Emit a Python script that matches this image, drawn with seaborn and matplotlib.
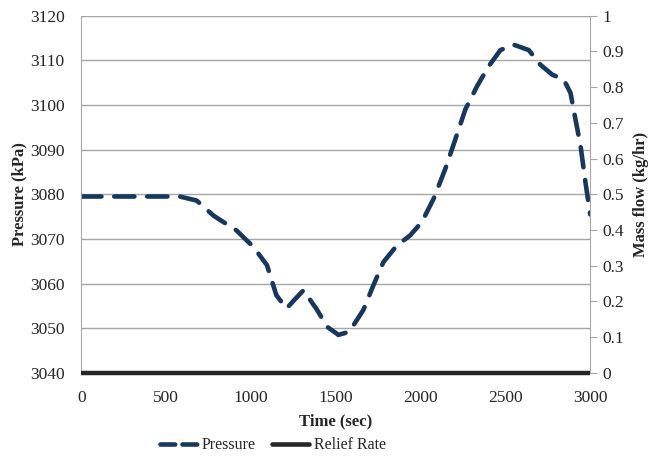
import matplotlib
matplotlib.use("Agg")
import matplotlib.pyplot as plt
import pandas as pd
import seaborn as sns
from matplotlib.lines import Line2D

# Pressure trace
time_sec = [0, 200, 400, 580, 680, 780, 915, 1015, 1095, 1150, 1210, 1260, 1310,
            1390, 1450, 1516, 1580, 1663, 1722, 1781, 1860, 1939, 2008, 2077,
            2146, 2205, 2264, 2333, 2402, 2471, 2549, 2638, 2707, 2776, 2844,
            2884, 2913, 2943, 2972, 3000]
pressure_kpa = [3079.5, 3079.5, 3079.5, 3079.5, 3078.6, 3075.2, 3071.9, 3068.2,
                3064.1, 3057.4, 3054.4, 3056.5, 3058.5, 3054.1, 3050.3, 3048.5,
                3049.2, 3054.1, 3059.6, 3064.8, 3068.5, 3070.8, 3073.8, 3079.0,
                3085.7, 3092.3, 3099.0, 3104.2, 3108.7, 3112.3, 3113.5, 3112.3,
                3109.0, 3106.8, 3105.7, 3102.7, 3096.8, 3090.9, 3082.7, 3075.5]

relief_time = [0, 3000]
relief_rate = [0, 0]

pressure_df = pd.DataFrame({"time": time_sec, "pressure": pressure_kpa})
relief_df = pd.DataFrame({"time": relief_time, "rate": relief_rate})

NAVY = "#17375E"
GRID = "#A6A6A6"
DASH = [4.4, 2.8]

sns.set_style("white")
plt.rcParams["font.family"] = ["Liberation Serif", "DejaVu Serif"]

fig = plt.figure(figsize=(6.5, 4.62), dpi=100)
ax = fig.add_axes([0.125, 0.193, 0.783, 0.773])

sns.lineplot(data=pressure_df, x="time", y="pressure", ax=ax, color=NAVY,
             linewidth=3.3)
ax.lines[0].set_dashes(DASH)
ax.lines[0].set_dash_capstyle("round")

ax.set_xlim(0, 3000)
ax.set_ylim(3040, 3120)
ax.set_xticks(range(0, 3001, 500))
ax.set_yticks(range(3040, 3121, 10))
ax.yaxis.grid(True, color=GRID, linewidth=1.0)
ax.set_axisbelow(True)
ax.tick_params(axis="both", labelsize=12.5, length=0, pad=12)
for side in ["top", "right", "bottom"]:
    ax.spines[side].set_visible(False)
ax.spines["left"].set_color(GRID)
ax.set_xlabel("Time (sec)", fontsize=12, fontweight="bold", labelpad=6)
ax.set_ylabel("Pressure (kPa)", fontsize=12, fontweight="bold", labelpad=2)

ax2 = ax.twinx()
sns.lineplot(data=relief_df, x="time", y="rate", ax=ax2, color="#262626",
             linewidth=3.2, clip_on=False)
ax2.lines[0].set_solid_capstyle("butt")
ax2.set_ylim(0, 1)
ax2.set_yticks([i / 10 for i in range(11)])
ax2.set_yticklabels(["0", "0.1", "0.2", "0.3", "0.4", "0.5", "0.6", "0.7",
                     "0.8", "0.9", "1"])
ax2.tick_params(axis="y", labelsize=12.5, length=5, color=GRID, pad=4)
for side in ["top", "left", "bottom"]:
    ax2.spines[side].set_visible(False)
ax2.spines["right"].set_color(GRID)
ax2.set_ylabel("Mass flow (kg/hr)", fontsize=12, fontweight="bold", labelpad=6)

handles = [
    Line2D([], [], color=NAVY, linewidth=3.3, dashes=[3.2, 1.6],
           dash_capstyle="round"),
    Line2D([], [], color="#262626", linewidth=3.3, solid_capstyle="round"),
]
fig.legend(handles, ["Pressure", "Relief Rate"], loc="lower center",
           bbox_to_anchor=(0.42, -0.012), ncol=2, frameon=False, fontsize=11.5,
           handlelength=2.3, handletextpad=0.3, columnspacing=1.0)

fig.savefig("out.png", dpi=100)
